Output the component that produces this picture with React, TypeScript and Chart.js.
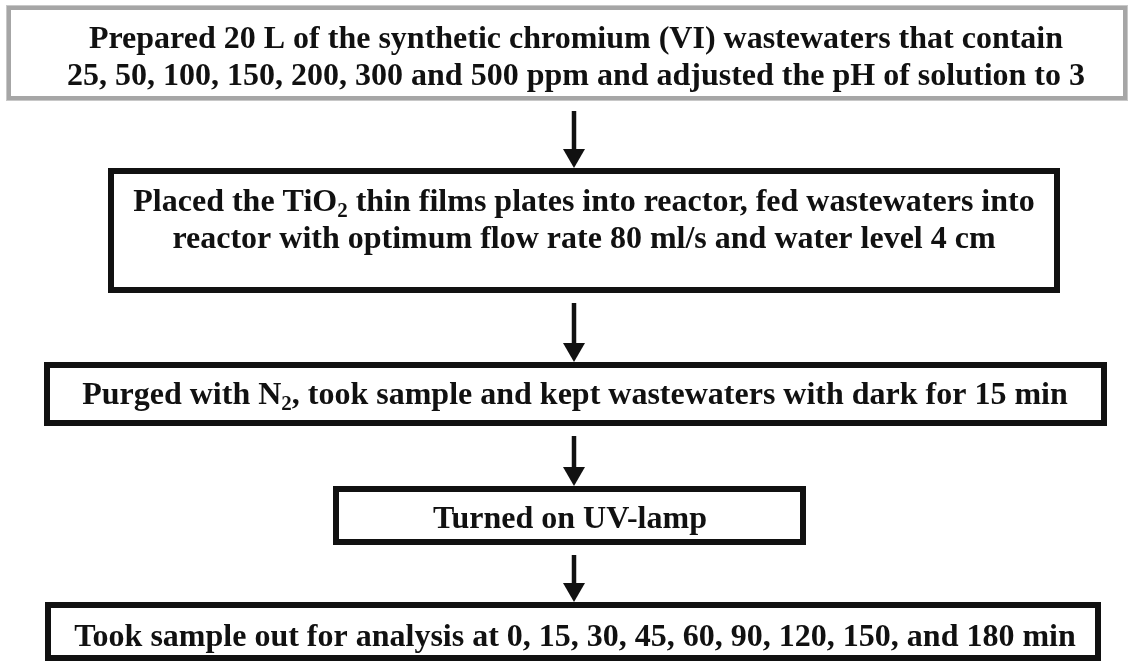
import React, { useEffect, useRef } from "react";
import { Chart, registerables } from "chart.js";

Chart.register(...registerables);

// ---- Content (text of each flowchart step; "_2" marks a subscript 2) ----
const STEP_LINES_1: string[] = [
  "Prepared 20 L of the synthetic chromium (VI) wastewaters that contain",
  "25, 50, 100, 150, 200, 300 and 500 ppm and adjusted the pH of solution to 3",
];
const STEP_LINES_2: string[] = [
  "Placed the TiO_2 thin films plates into reactor, fed wastewaters into",
  "reactor with optimum flow rate 80 ml/s and water level 4 cm",
];
const STEP_LINES_3: string[] = [
  "Purged with N_2, took sample and kept wastewaters with dark for 15 min",
];
const STEP_LINES_4: string[] = ["Turned on UV-lamp"];
const STEP_LINES_5: string[] = [
  "Took sample out for analysis at 0, 15, 30, 45, 60, 90, 120, 150, and 180 min",
];
const STEPS: string[][] = [STEP_LINES_1, STEP_LINES_2, STEP_LINES_3, STEP_LINES_4, STEP_LINES_5];

// ---- Layout (in scale units; page-sized coordinate system) ----
const BOX_LEFT = [6, 108, 44, 333, 45];
const BOX_RIGHT = [1128, 1060, 1107, 806, 1101];
const BOX_TOP = [5, 168, 362, 486, 602];
const BOX_BOTTOM = [101, 293, 426, 545, 661];
const TEXT_CENTER_X = [576, 584, 575, 570, 575];
const TEXT_BASELINES = [[48, 85], [211, 248], [404], [528], [646]];
const ARROW_X = 574;

const W = 1135;
const H = 662;

const FONT_FAMILY = "'Liberation Serif', 'Times New Roman', serif";
const FONT_SIZE = 32;
const SUB_SIZE = 21;

function parseSegments(line: string): { t: string; sub: boolean }[] {
  const parts = line.split("_2");
  const segs: { t: string; sub: boolean }[] = [];
  parts.forEach((p, i) => {
    segs.push({ t: p, sub: false });
    if (i < parts.length - 1) segs.push({ t: "2", sub: true });
  });
  return segs;
}

const flowPlugin = {
  id: "flowchart",
  beforeDraw(chart: any) {
    const ctx = chart.ctx;
    ctx.save();
    ctx.fillStyle = "#ffffff";
    ctx.fillRect(0, 0, chart.width, chart.height);
    ctx.restore();
  },
  afterDraw(chart: any) {
    const ctx: CanvasRenderingContext2D = chart.ctx;
    const xs = chart.scales.x;
    const ys = chart.scales.y;
    const px = (v: number) => xs.getPixelForValue(v);
    const py = (v: number) => ys.getPixelForValue(v);

    ctx.save();
    // Boxes
    STEPS.forEach((lines, i) => {
      const l = px(BOX_LEFT[i]);
      const r = px(BOX_RIGHT[i]);
      const t = py(BOX_TOP[i]);
      const b = py(BOX_BOTTOM[i]);
      const lw = i === 0 ? 5 : 6;
      ctx.lineWidth = lw;
      ctx.strokeStyle = i === 0 ? "#a6a6a6" : "#111111";
      ctx.strokeRect(l + lw / 2, t + lw / 2, r - l - lw, b - t - lw);
      if (i === 0) {
        ctx.lineWidth = 1;
        ctx.strokeStyle = "#c8c8c8";
        ctx.strokeRect(l + 0.5, t + 0.5, r - l - 1, b - t - 1);
      }

      // Text
      const cx = px(TEXT_CENTER_X[i]);
      lines.forEach((line, j) => {
        const segs = parseSegments(line);
        const base = py(TEXT_BASELINES[i][j]);
        let total = 0;
        const widths = segs.map((s) => {
          ctx.font = `bold ${s.sub ? SUB_SIZE : FONT_SIZE}px ${FONT_FAMILY}`;
          const w = ctx.measureText(s.t).width;
          total += w;
          return w;
        });
        let x = cx - total / 2;
        ctx.fillStyle = "#111111";
        ctx.textAlign = "left";
        ctx.textBaseline = "alphabetic";
        segs.forEach((s, k) => {
          ctx.font = `bold ${s.sub ? SUB_SIZE : FONT_SIZE}px ${FONT_FAMILY}`;
          ctx.fillText(s.t, x, s.sub ? base + 6 : base);
          x += widths[k];
        });
      });
    });

    // Arrows between boxes
    for (let i = 0; i < STEPS.length - 1; i++) {
      const x = px(ARROW_X);
      const y0 = py(BOX_BOTTOM[i]) + 10;
      const y1 = py(BOX_TOP[i + 1]);
      const headH = 19;
      const headW = 11;
      ctx.strokeStyle = "#111111";
      ctx.fillStyle = "#111111";
      ctx.lineWidth = 4.5;
      ctx.beginPath();
      ctx.moveTo(x, y0);
      ctx.lineTo(x, y1 - headH + 2);
      ctx.stroke();
      ctx.beginPath();
      ctx.moveTo(x - headW, y1 - headH);
      ctx.lineTo(x + headW, y1 - headH);
      ctx.lineTo(x, y1);
      ctx.closePath();
      ctx.fill();
    }
    ctx.restore();
  },
};

export default function App() {
  const canvasRef = useRef<HTMLCanvasElement | null>(null);

  useEffect(() => {
    document.body.style.margin = "0";
    const canvas = canvasRef.current;
    if (!canvas) return;
    const chart = new Chart(canvas, {
      type: "scatter",
      data: { datasets: [{ data: [], pointRadius: 0 }] },
      options: {
        animation: false,
        responsive: false,
        maintainAspectRatio: false,
        devicePixelRatio: 1,
        layout: { padding: 0 },
        plugins: { legend: { display: false }, tooltip: { enabled: false } },
        scales: {
          x: { type: "linear", min: 0, max: W, display: false },
          y: { type: "linear", min: 0, max: H, reverse: true, display: false },
        },
      },
      plugins: [flowPlugin],
    });
    return () => chart.destroy();
  }, []);

  return (
    <div style={{ width: W, height: H, background: "#fff" }}>
      <canvas ref={canvasRef} width={W} height={H} style={{ display: "block" }} />
    </div>
  );
}
